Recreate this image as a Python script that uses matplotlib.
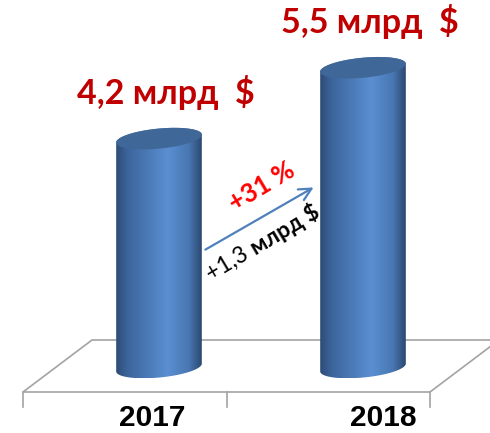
import numpy as np
import matplotlib.pyplot as plt
from matplotlib.patches import Polygon
from matplotlib.colors import LinearSegmentedColormap

# Export revenue, billions of USD
years = ["2017", "2018"]
revenue = [4.2, 5.5]

# Layout in output pixels (figure is 490x433 at dpi 100)
W, H = 490, 433
X0_PX, PX_PER_CAT = 159.0, 204.0      # pixel column of first category, spacing
Y0_PX, PX_PER_UNIT = 367.5, 54.5      # pixel row of value 0, pixels per billion
HALF_W, HALF_D, TILT = 43.0, 10.0, np.radians(5.5)

BODY_CMAP = LinearSegmentedColormap.from_list(
    "cyl",
    [(0.0, "#2d4b76"), (0.12, "#3b6399"), (0.6, "#5a8fd2"),
     (0.85, "#4877b2"), (1.0, "#2c4870")],
)
TOP_COLOR = "#3f6898"
FLOOR_COLOR = "#a3a3a3"
SANS = ["Lato", "Noto Sans", "DejaVu Sans"]


def to_data(x_px, y_px):
    """Absolute pixel position -> data coordinates."""
    return (x_px - X0_PX) / PX_PER_CAT, (Y0_PX - y_px) / PX_PER_UNIT


def ellipse(cx, cy, t):
    """Tilted ellipse points around data centre (cx, cy), built in pixel space."""
    ex = HALF_W * np.cos(t) * np.cos(TILT) - HALF_D * np.sin(t) * np.sin(TILT)
    ey = HALF_W * np.cos(t) * np.sin(TILT) + HALF_D * np.sin(t) * np.cos(TILT)
    return np.column_stack([cx + ex / PX_PER_CAT, cy + ey / PX_PER_UNIT])


def draw_cylinder(ax, x, value):
    t0 = np.arctan2(-HALF_D * np.sin(TILT), HALF_W * np.cos(TILT))
    bottom = ellipse(x, 0.0, np.linspace(t0 + np.pi, t0 + 2 * np.pi, 80))
    top_back = ellipse(x, value, np.linspace(t0, t0 + np.pi, 80))
    outline = np.vstack([bottom, top_back])
    body = Polygon(outline, closed=True, transform=ax.transData,
                   facecolor="none", edgecolor="none")
    ax.add_patch(body)

    grad = np.linspace(0, 1, 256).reshape(1, -1)
    y_lo = outline[:, 1].min()
    y_hi = outline[:, 1].max()
    im = ax.imshow(grad, cmap=BODY_CMAP, aspect="auto", interpolation="bicubic",
                   extent=[x - HALF_W / PX_PER_CAT, x + HALF_W / PX_PER_CAT, y_lo, y_hi],
                   zorder=3)
    im.set_clip_path(body)

    cap = ellipse(x, value, np.linspace(0, 2 * np.pi, 160))
    ax.add_patch(Polygon(cap, closed=True, facecolor=TOP_COLOR,
                         edgecolor="none", zorder=4))


fig = plt.figure(figsize=(W / 100, H / 100), dpi=100)
ax = fig.add_axes([0, 0, 1, 1])
ax.set_xlim(to_data(0, 0)[0], to_data(W, 0)[0])
ax.set_ylim(to_data(0, H)[1], to_data(0, 0)[1])
ax.axis("off")

# Floor of the 3D plot area
floor = [to_data(23, 392), to_data(92, 340), to_data(499, 340), to_data(430, 392)]
ax.add_patch(Polygon(floor, closed=True, facecolor="white",
                     edgecolor=FLOOR_COLOR, lw=1.2, zorder=1, clip_on=False))
for xp in (23, 227, 430):
    (fx, fy0), (_, fy1) = to_data(xp, 392), to_data(xp, 407)
    ax.plot([fx, fx], [fy0, fy1], color=FLOOR_COLOR, lw=1.2, zorder=1)

for i, v in enumerate(revenue):
    draw_cylinder(ax, i, v)

# Value labels above each cylinder
for i, v in enumerate(revenue):
    label = f"{v:.1f}".replace(".", ",") + " млрд  $"
    ax.text(i + 7 / PX_PER_CAT, v + 46 / PX_PER_UNIT, label,
            ha="center", va="center", color="#c00000", fontsize=24.5,
            fontweight="bold", family=SANS)

# Category labels on the front edge of the floor
label_shift = [-7, 20]
for i, year in enumerate(years):
    ax.text(i + label_shift[i] / PX_PER_CAT, to_data(0, 418)[1], year,
            ha="center", va="center", fontsize=21.5, fontweight="bold",
            family="Liberation Sans")

# Growth arrow between the two years
growth_pct = (revenue[1] - revenue[0]) / revenue[0] * 100
growth_abs = revenue[1] - revenue[0]
ax.annotate("", xy=to_data(316, 186), xytext=to_data(203, 251),
            arrowprops=dict(arrowstyle="->", color="#4f81bd", lw=1.6,
                            mutation_scale=22), zorder=5)

ax.text(*to_data(262, 187), f"+{growth_pct:.0f} %", rotation=31,
        rotation_mode="anchor", ha="center", va="center", color="#ff0000",
        fontsize=18.5, fontweight="bold", family=SANS)

# "+1,3 млрд $" set in two weights along one rotated baseline
ang = 31
renderer = fig.canvas.get_renderer()
parts = [("+" + f"{growth_abs:.1f}".replace(".", ",") + " ", "normal"),
         ("млрд $", "bold")]
widths = []
for s, wgt in parts:
    t = ax.text(0, 0, s, fontsize=16.5, fontweight=wgt, family=SANS)
    widths.append(t.get_window_extent(renderer).width)
    t.remove()
d = np.array([np.cos(np.radians(ang)), -np.sin(np.radians(ang))])
pos = np.array([263.0, 243.0]) - d * sum(widths) / 2
for (s, wgt), w in zip(parts, widths):
    ax.text(*to_data(*pos), s, rotation=ang, rotation_mode="anchor",
            ha="left", va="center", color="black", fontsize=16.5,
            fontweight=wgt, family=SANS)
    pos = pos + d * w

fig.savefig("out.png", dpi=100, facecolor="white")
